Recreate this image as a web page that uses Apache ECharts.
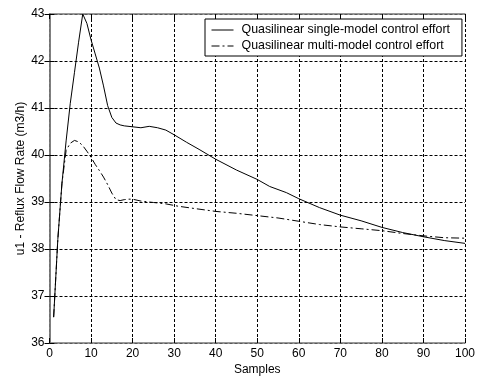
<!DOCTYPE html>
<html>
<head>
<meta charset="utf-8">
<script src="https://cdn.jsdelivr.net/npm/echarts@6/dist/echarts.min.js"></script>
<style>
  html, body { margin: 0; padding: 0; background: #fff; }
  #chart { width: 478px; height: 381px; }
</style>
</head>
<body>
<div id="chart"></div>
<script>
// quasilinear single-model control effort
const singleSamples = [1, 2, 3, 4, 5, 6, 7, 8, 9, 10, 11, 12, 13, 14, 15, 16, 17, 18, 20, 22, 24, 26, 28, 30, 33, 36, 40, 45, 50, 53, 57, 60, 65, 70, 75, 80, 85, 90, 95, 100];
const singleValues = [36.55, 38.2, 39.4, 40.3, 41.1, 41.75, 42.4, 43.0, 42.8, 42.45, 42.15, 41.85, 41.47, 41.05, 40.8, 40.68, 40.64, 40.62, 40.6, 40.58, 40.61, 40.58, 40.53, 40.43, 40.27, 40.12, 39.91, 39.68, 39.48, 39.33, 39.2, 39.07, 38.88, 38.72, 38.6, 38.46, 38.35, 38.26, 38.18, 38.12];

// quasilinear multi-model control effort
const multiSamples = [1, 2, 3, 4, 5, 6, 7, 8, 9, 10, 11, 12, 13, 14, 15, 16, 17, 18, 19, 20, 22, 25, 28, 31, 35, 40, 45, 50, 55, 60, 65, 70, 75, 80, 85, 90, 95, 100];
const multiValues = [36.55, 38.2, 39.4, 40.1, 40.25, 40.31, 40.28, 40.2, 40.08, 39.95, 39.8, 39.67, 39.53, 39.37, 39.19, 39.05, 39.03, 39.05, 39.06, 39.06, 39.02, 38.99, 38.96, 38.91, 38.86, 38.8, 38.76, 38.71, 38.66, 38.59, 38.52, 38.47, 38.43, 38.39, 38.33, 38.28, 38.24, 38.23];

const seriesNames = ['Quasilinear single-model control effort', 'Quasilinear multi-model control effort'];

const toPairs = (xs, ys) => xs.map((x, i) => [x, ys[i]]);

const font = 'Liberation Sans, Arial, sans-serif';
const gridLine = {show: true, lineStyle: {color: '#000', width: 1, type: [3, 2]}};
const boxLine = {show: true, lineStyle: {color: '#777', width: 1.5}};
const innerTick = {show: true, inside: true, length: 5, lineStyle: {color: '#000'}};

const myChart = echarts.init(document.getElementById('chart'));

const option = {
    backgroundColor: '#fff',
    animation: false,
    textStyle: {fontFamily: font},
    grid: {left: 49.5, top: 14, right: 11, bottom: 37},
    legend: {
        orient: 'vertical',
        left: 205,
        top: 19,
        padding: [5, 12, 4, 6],
        itemWidth: 22,
        itemHeight: 12,
        itemGap: 4,
        backgroundColor: '#fff',
        borderColor: '#000',
        borderWidth: 1,
        borderRadius: 0,
        itemStyle: {opacity: 0},   // hide the circle that line series put in the icon
        lineStyle: {width: 1},
        textStyle: {color: '#000', fontSize: 12.4, fontFamily: font, padding: [0, 0, 0, 3]},
        data: seriesNames,
    },
    xAxis: [{
        type: 'value',
        min: 0,
        max: 100,
        interval: 10,
        name: 'Samples',
        nameLocation: 'middle',
        nameGap: 21,
        nameMoveOverlap: false,
        nameTextStyle: {color: '#000', fontSize: 12, fontFamily: font},
        axisLine: boxLine,
        axisTick: innerTick,
        axisLabel: {color: '#000', fontSize: 12, margin: 5, fontFamily: font},
        splitLine: gridLine,
    }, {
        type: 'value',
        position: 'top',
        min: 0,
        max: 100,
        interval: 10,
        axisLine: boxLine,
        axisTick: innerTick,
        axisLabel: {show: false},
        splitLine: {show: false},
    }],
    yAxis: [{
        type: 'value',
        min: 36,
        max: 43,
        interval: 1,
        name: 'u1 - Reflux Flow Rate (m3/h)',
        nameLocation: 'middle',
        nameGap: 23,
        nameMoveOverlap: false,
        nameTextStyle: {color: '#000', fontSize: 12, fontFamily: font},
        axisLine: boxLine,
        axisTick: innerTick,
        axisLabel: {color: '#000', fontSize: 12, margin: 5, fontFamily: font},
        splitLine: gridLine,
    }, {
        type: 'value',
        position: 'right',
        min: 36,
        max: 43,
        interval: 1,
        axisLine: boxLine,
        axisTick: innerTick,
        axisLabel: {show: false},
        splitLine: {show: false},
    }],
    series: [
        {
            name: seriesNames[0],
            type: 'line',
            symbol: 'none',
            data: toPairs(singleSamples, singleValues),
            lineStyle: {color: '#000', width: 1, type: 'solid'},
            itemStyle: {color: '#000'},
        },
        {
            name: seriesNames[1],
            type: 'line',
            symbol: 'none',
            data: toPairs(multiSamples, multiValues),
            lineStyle: {color: '#000', width: 1, type: [8, 3, 2, 3]},
            itemStyle: {color: '#000'},
        },
    ],
};
myChart.setOption(option);
</script>
</body>
</html>
